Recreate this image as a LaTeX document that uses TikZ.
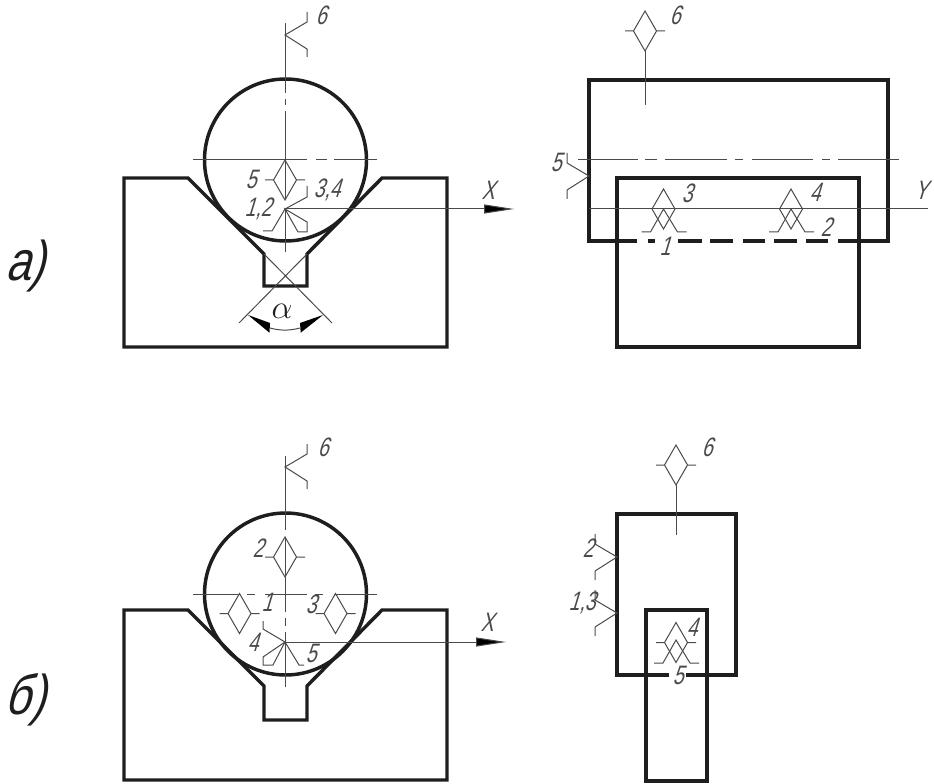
\documentclass[tikz,border=0pt]{standalone}
\usepackage{fontspec}
\usetikzlibrary{arrows.meta}
\newfontfamily\gost[FakeStretch=0.72,FakeSlant=0.3]{Liberation Sans}
\newfontfamily\gostbig[FakeStretch=0.8,FakeSlant=0.28]{Liberation Sans}
\definecolor{ink}{HTML}{1E1E1E}
\definecolor{fine}{HTML}{4A4A4A}
\tikzset{
  heavy/.style={draw=ink,line width=2.6pt,line join=miter},
  fineline/.style={draw=fine,line width=0.75pt},
  lab/.style={font=\gost\fontsize{20}{20}\selectfont,text=fine,inner sep=0pt},
  biglab/.style={font=\gostbig\fontsize{42}{42}\selectfont,text=ink,inner sep=0pt},
  axisarrow/.style={fineline,-{Stealth[length=30*0.75pt,width=9*0.75pt,inset=0pt,fill=black]}},
  anglehead/.style={fill=black,draw=none},
  rhomb/.pic={\draw[fineline] (0,-20)--(11.5,0)--(0,20)--(-11.5,0)--cycle (-20,0)--(-11.5,0) (11.5,0)--(20,0);},
  rhombnotick/.pic={\draw[fineline] (0,-20)--(11.5,0)--(0,20)--(-11.5,0)--cycle;},
  capv/.pic={\draw[fineline] (-22,23)--(-13,23)--(0,0)--(14,23)--(23,23);},
  markright/.pic={\draw[fineline] (22,-23)--(22,-13)--(0,0)--(22,14)--(22,22);},
  markleft/.pic={\draw[fineline] (-22,-23)--(-22,-13)--(0,0)--(-22,14)--(-22,23);}
}
\begin{document}
\begin{tikzpicture}[x=0.75pt,y=-0.75pt]
\useasboundingbox (0,0) rectangle (934,784);
% ---- a) left
\draw[heavy] (124,178)--(188,178)--(264,254)--(264,286)--(307,286)--(307,254)--(382,178)--(447,178)--(447,347)--(124,347)--cycle;
\draw[heavy] (285.5,160) circle[radius=81];
\draw[fineline] (285,23)--(285,93) (285,99)--(285,105) (285,111)--(285,199) (285,209)--(285,252);
\draw[fineline] (193,160)--(307,160) (316,160)--(327,160) (334,160)--(377,160);
\pic at (285,180) {rhomb};
\pic at (285,35) {markright};
\draw[fineline] (263,231)--(272,231)--(285,209)--(307,197)--(307,186);
\draw[fineline] (285,209)--(307,222)--(307,232)--(298,232)--cycle;
\coordinate (xa0) at (285,209); \coordinate (xa1) at (514,209);
\draw[axisarrow] (xa0)--(xa1);
\draw[fineline] (264,254)--(332,323) (307,254)--(239,323);
\fill[anglehead] (248,315)--(270,323)--(269.5,332.7)--cycle;
\fill[anglehead] (323,315)--(300,323)--(300.7,332.7)--cycle;
\draw[fineline] (270,328) arc[start angle=106,end angle=74,radius=54];
\node[inner sep=0pt,font=\fontsize{23}{23}\selectfont,text=ink] (alpha) at (282,311) {$\alpha$};
\node[lab] (a6) at (321,15) {6};
\node[lab] (a5) at (251,179) {5};
\node[lab] (a34) at (327,190) {3,4};
\node[lab] (a12) at (258,209) {1,2};
\node[lab] (aX) at (488,190) {X};
% ---- a) right
\draw[heavy] (838,241)--(888,241)--(888,80)--(589,80)--(589,241)--(637,241);
\draw[heavy] (648,241)--(655,241) (678,241)--(702,241) (710,241)--(733,241) (743,241)--(765,241) (774,241)--(797,241) (806,241)--(828,241);
\draw[heavy] (617,178) rectangle (859,347);
\draw[fineline] (578,160)--(638,160) (645,160)--(657,160) (665,160)--(727,160) (735,160)--(743,160) (752,160)--(813,160) (822,160)--(830,160) (838,160)--(899,160);
\draw[fineline] (589,209)--(928,209);
\pic at (645,31) {rhomb};
\draw[fineline] (645,51)--(645,105);
\pic at (589,176) {markleft};
\pic at (663.5,209) {rhombnotick};
\pic at (663.5,209) {capv};
\pic at (791,209) {rhombnotick};
\pic at (791,209) {capv};
\node[lab] (b6) at (675,15) {6};
\node[lab] (b5) at (556,162) {5};
\node[lab] (b3) at (687,193) {3};
\node[lab] (b4) at (815,192) {4};
\node[lab] (b2) at (826,227) {2};
\node[lab] (b1) at (665,246) {1};
\node[lab] (bY) at (921,190) {Y};
% ---- б) left
\draw[heavy] (124,610)--(188,610)--(264,686)--(264,720)--(307,720)--(307,686)--(382,610)--(447,610)--(447,780)--(124,780)--cycle;
\draw[heavy] (285.5,594) circle[radius=81];
\draw[fineline] (285,456)--(285,530) (285,537)--(285,612) (285,618)--(285,626) (285,632)--(285,687);
\draw[fineline] (193,594)--(238,594) (247,594)--(255,594) (265,594)--(307,594) (315,594)--(323,594) (334,594)--(377,594);
\pic at (285,557) {rhomb};
\pic at (239.5,613.5) {rhomb};
\pic at (335.5,613.5) {rhomb};
\pic at (285,467) {markright};
\draw[fineline] (263,621)--(263,629)--(285,642)--(299,665)--(304,665);
\draw[fineline] (285,642)--(263,657)--(263,665)--(273,665)--cycle;
\coordinate (xc0) at (285,642); \coordinate (xc1) at (506,642);
\draw[axisarrow] (xc0)--(xc1);
\node[lab] (c6) at (323,447) {6};
\node[lab] (c2) at (258,548) {2};
\node[lab] (c1) at (267,602) {1};
\node[lab] (c3) at (311,604) {3};
\node[lab] (c4) at (253,642) {4};
\node[lab] (c5) at (311,653) {5};
\node[lab] (cX) at (487,622) {X};
% ---- б) right
\draw[heavy] (669,675)--(617,675)--(617,514)--(736,514)--(736,675)--(686,675);
\draw[heavy] (646,610) rectangle (707,781);
\pic at (676,465) {rhomb};
\draw[fineline] (676,485)--(676,535);
\pic at (617,557) {markleft};
\pic at (617,613) {markleft};
\pic at (676,642.5) {rhomb};
\pic at (676,640) {capv};
\node[lab] (d6) at (707,447) {6};
\node[lab] (d2) at (588,548) {2};
\node[lab] (d13) at (582,603) {1,3};
\node[lab] (d4) at (692,627) {4};
\node[lab] (d5) at (678,675) {5};
% ---- captions
\node[biglab] (capa) at (25,266) {а)};
\node[biglab] (capb) at (25,700) {б)};
\end{tikzpicture}
\end{document}
